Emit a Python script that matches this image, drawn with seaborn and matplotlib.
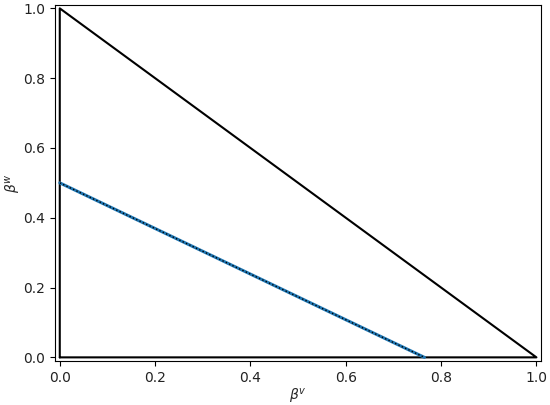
import matplotlib
matplotlib.use("Agg")
import matplotlib.pyplot as plt
import seaborn as sns
import pandas as pd

# Simplex boundary (beta^v, beta^w)
tri_x = [0.0, 1.0, 0.0, 0.0]
tri_y = [0.0, 0.0, 1.0, 0.0]
# Constraint line
line_x = [0.0, 0.765]
line_y = [0.5, 0.0]

sns.set_style("ticks")
plt.rcParams['font.family'] = ['DejaVu Sans']

fig, ax = plt.subplots(figsize=(5.5, 4.05), dpi=100)

tri = pd.DataFrame({"x": tri_x, "y": tri_y, "o": range(len(tri_x))})
ln = pd.DataFrame({"x": line_x, "y": line_y})

sns.lineplot(data=tri, x="x", y="y", sort=False, estimator=None, color="black", lw=1.5, ax=ax)
sns.lineplot(data=ln, x="x", y="y", sort=False, estimator=None, color="#1f77b4", lw=2.2, ax=ax)
sns.lineplot(data=ln, x="x", y="y", sort=False, estimator=None, color="black", lw=1.0, ls=":", ax=ax)

ax.set_xlim(-0.01, 1.01)
ax.set_ylim(-0.01, 1.01)
ax.set_xticks([0.0, 0.2, 0.4, 0.6, 0.8, 1.0])
ax.set_yticks([0.0, 0.2, 0.4, 0.6, 0.8, 1.0])
ax.set_xlabel(r"$\beta^v$", labelpad=2)
ax.set_ylabel(r"$\beta^w$", labelpad=0)
for s in ax.spines.values():
    s.set_visible(True)
    s.set_color("black")
    s.set_linewidth(0.8)
ax.tick_params(colors="black", labelcolor="#222222")

fig.subplots_adjust(left=0.1, right=0.984, top=0.988, bottom=0.109)
fig.savefig("out.png", dpi=100)
